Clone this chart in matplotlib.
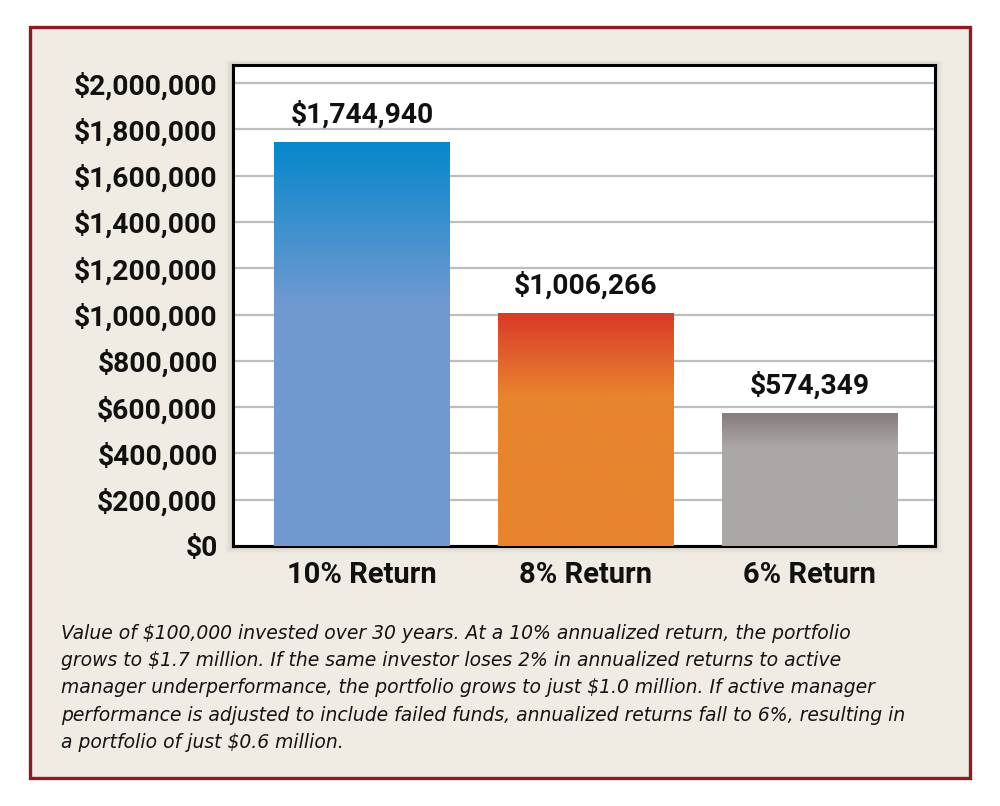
import matplotlib.pyplot as plt
import numpy as np
from matplotlib.patches import Rectangle
from matplotlib.colors import LinearSegmentedColormap

categories = ['10% Return', '8% Return', '6% Return']
values = [1744940, 1006266, 574349]
value_labels = ['$1,744,940', '$1,006,266', '$574,349']
yticks = list(range(0, 2000001, 200000))
ytick_labels = ['$0', '$200,000', '$400,000', '$600,000', '$800,000', '$1,000,000',
                '$1,200,000', '$1,400,000', '$1,600,000', '$1,800,000', '$2,000,000']
caption = ("Value of \\$100,000 invested over 30 years. At a 10% annualized return, the portfolio\n"
           "grows to \\$1.7 million. If the same investor loses 2% in annualized returns to active\n"
           "manager underperformance, the portfolio grows to just \\$1.0 million. If active manager\n"
           "performance is adjusted to include failed funds, annualized returns fall to 6%, resulting in\n"
           "a portfolio of just \\$0.6 million.")

# top colour, bottom colour, fraction of bar height the fade covers
gradients = [('#0787cc', '#7099d0', 0.40),
             ('#da3a2a', '#e8832e', 0.35),
             ('#857c7b', '#aba7a5', 0.25)]

label_font = 'Roboto'

fig = plt.figure(figsize=(10, 8.06), dpi=100)
fig.patch.set_facecolor('white')

# framed wood-ish panel
frame = Rectangle((0.030, 0.0347), 0.940, 0.9318, transform=fig.transFigure,
                  facecolor='#f0ebe3', edgecolor='#8e1b23', linewidth=2.4, zorder=0)
fig.patches.append(frame)

ax_rect = [0.233, 0.3226, 0.702, 0.5968]

# soft shadow behind the plot area
for i, a in enumerate([0.05, 0.035, 0.025, 0.015]):
    off = 0.002 * (i + 1)
    sh = Rectangle((ax_rect[0] - off, ax_rect[1] - off * 1.2), ax_rect[2] + 2 * off,
                   ax_rect[3] + 2 * off, transform=fig.transFigure,
                   facecolor='black', alpha=a, edgecolor='none', zorder=1)
    fig.patches.append(sh)

ax = fig.add_axes(ax_rect)
ax.set_facecolor('white')
ax.set_zorder(2)

x = np.arange(len(categories))
width = 0.786
bars = ax.bar(x, values, width=width, color='none', zorder=3)

for bar, (top, bottom, frac) in zip(bars, gradients):
    cmap = LinearSegmentedColormap.from_list('g', [(0, bottom), (1 - frac, bottom), (1, top)])
    grad = np.linspace(0, 1, 256).reshape(-1, 1)
    x0, y0 = bar.get_x(), bar.get_y()
    im = ax.imshow(grad, cmap=cmap, aspect='auto', origin='lower',
                   extent=[x0, x0 + bar.get_width(), y0, y0 + bar.get_height()], zorder=3)
    im.set_clip_path(bar)

for bar, lab in zip(bars, value_labels):
    ax.text(bar.get_x() + bar.get_width() / 2, bar.get_height() + 82000, lab,
            ha='center', va='baseline', fontsize=20.3, fontweight='bold',
            family=label_font, color='#111111', zorder=4)

ax.set_xlim(-0.576, 2.56)
ax.set_ylim(0, 2078000)
ax.set_yticks(yticks)
ax.set_yticklabels(ytick_labels, fontsize=20.3, fontweight='bold', family=label_font)
ax.set_xticks(x)
ax.set_xticklabels(categories, fontsize=21, fontweight='bold', family=label_font)
ax.tick_params(axis='both', length=0, colors='#111111')
ax.tick_params(axis='y', pad=11)
ax.tick_params(axis='x', pad=11)
ax.yaxis.grid(True, color='#bdbdbd', linewidth=1.6, zorder=1)
ax.set_axisbelow(True)
for sp in ax.spines.values():
    sp.set_linewidth(2.2)
    sp.set_color('black')

fig.text(0.061, 0.226, caption, ha='left', va='top', fontsize=13.5, style='italic',
         family='DejaVu Sans', color='#141414', linespacing=1.55)

fig.savefig('out.png', dpi=100, facecolor=fig.get_facecolor())
